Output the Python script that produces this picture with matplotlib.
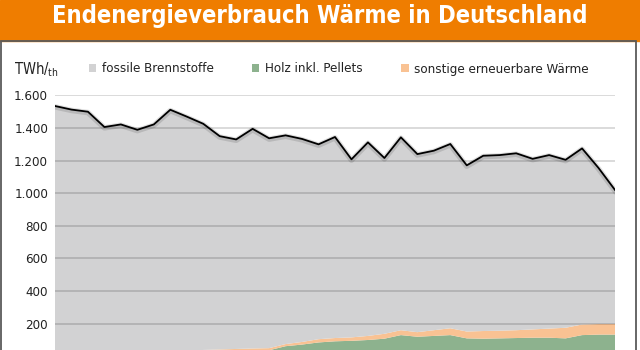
import matplotlib
matplotlib.use('Agg')
import matplotlib.pyplot as plt
import matplotlib.patheffects as pe
from matplotlib.patches import Rectangle

# data (TWh)
years = list(range(1990, 2025))
gesamt = [1535, 1513, 1500, 1406, 1422, 1389, 1422, 1512, 1470, 1426,
          1350, 1330, 1395, 1337, 1355, 1333, 1300, 1345, 1208, 1312,
          1216, 1343, 1240, 1261, 1302, 1171, 1230, 1234, 1245, 1211,
          1234, 1205, 1275, 1155, 1020]
holz = [12, 13, 13, 14, 15, 16, 18, 20, 22, 28,
        30, 32, 35, 37, 62, 72, 85, 92, 95, 100,
        108, 130, 120, 125, 130, 110, 108, 110, 112, 114,
        114, 110, 130, 133, 133]
sonstige = [2, 2, 3, 3, 4, 5, 6, 7, 8, 11,
            12, 13, 13, 13, 13, 16, 20, 20, 21, 25,
            30, 30, 28, 35, 42, 42, 47, 47, 48, 51,
            56, 65, 65, 65, 65]
labels = ['fossile Brennstoffe', 'Holz inkl. Pellets', 'sonstige erneuerbare Wärme']
yticks = list(range(200, 1601, 200))

fossil = [g - h - s for g, h, s in zip(gesamt, holz, sonstige)]

plt.rcParams['font.family'] = ['DejaVu Sans']
plt.rcParams['font.stretch'] = 'condensed'

fig = plt.figure(figsize=(6.4, 3.5), dpi=100)
W, H = 640, 350

# orange banner + frame
fig.patches.append(Rectangle((0, 1 - 41 / H), 1, 41 / H, transform=fig.transFigure,
                             color='#ef7d00', zorder=0))
fig.patches.append(Rectangle((1 / W, -0.05), 634.5 / W, 1 - 41 / H + 0.05,
                             transform=fig.transFigure, fill=False,
                             edgecolor='#5a5a5a', linewidth=1.3, zorder=0))
fig.text(0.5, 1 - 22.5 / H, 'Endenergieverbrauch Wärme in Deutschland',
         ha='center', va='baseline', color='white', fontsize=17, fontweight='bold')

top, bottom = 95.4, 356.3
ax = fig.add_axes([55 / W, 1 - bottom / H, 560 / W, (bottom - top) / H])
polys = ax.stackplot(years, holz, sonstige, fossil,
                     colors=['#8db28e', '#f9c293', '#d2d2d3'], linewidth=0)
ax.plot(years, gesamt, color='black', linewidth=1.3, zorder=3,
        path_effects=[pe.SimpleLineShadow(offset=(0, -0.6), shadow_color='black',
                                          alpha=0.12, linewidth=4), pe.Normal()])

ax.set_xlim(years[0], years[-1])
ax.set_ylim(0, 1600)
ax.set_yticks(yticks)
ax.set_yticklabels([f'{v:,}'.replace(',', '.') for v in yticks])
ax.set_xticks([])
ax.tick_params(axis='y', length=0, pad=5, labelsize=9.5, colors='#222222')
ax.set_axisbelow(False)
ax.grid(axis='y', color='black', alpha=0.17, linewidth=1.2)
for s in ax.spines.values():
    s.set_visible(False)
ax.patch.set_alpha(0)

fig.text(14 / W, 1 - 74 / H, r'TWh/$_{\mathregular{th}}$', fontsize=10.5, color='#222222')
leg = fig.legend([polys[2], polys[0], polys[1]], labels, ncol=3, frameon=False,
                 loc='center left', bbox_to_anchor=(77 / W, 1 - 69 / H),
                 fontsize=9.5, handlelength=0.55, handleheight=0.55,
                 handletextpad=0.45, columnspacing=2.9, labelcolor='#222222')

fig.savefig('out.png', dpi=100)
